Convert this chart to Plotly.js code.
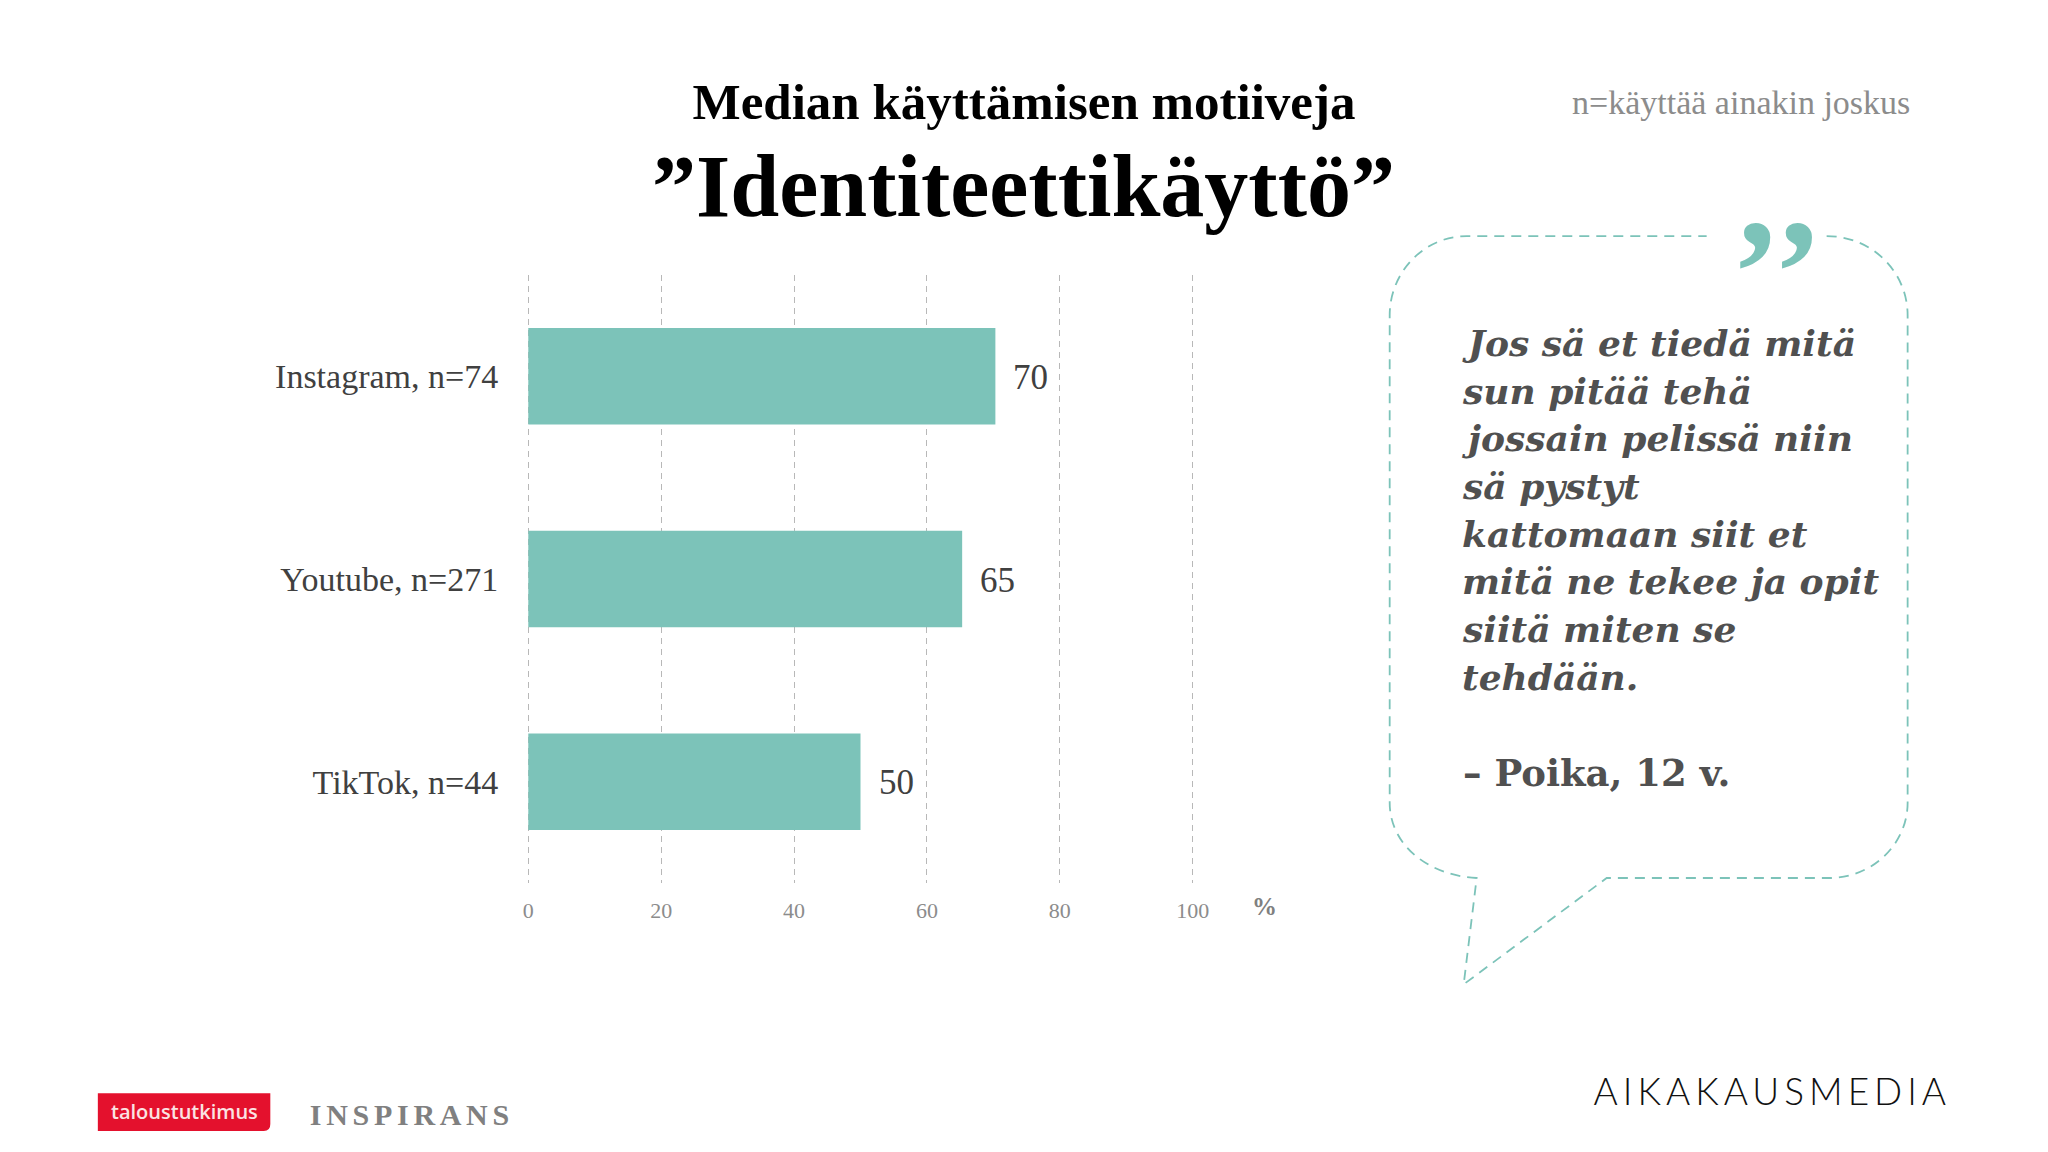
<!DOCTYPE html>
<html><head><meta charset="utf-8">
<script src="https://cdn.plot.ly/plotly-3.0.1.min.js"></script>
<style>html,body{margin:0;padding:0;background:#fff}#c{width:2048px;height:1152px}</style>
</head><body><div id="c"></div>
<script>
const categories = ["Instagram, n=74", "Youtube, n=271", "TikTok, n=44"];
const values = [70.3, 65.3, 50.0];
const valueLabels = ["70", "65", "50"];
const xTicks = [0, 20, 40, 60, 80, 100];
const titleLine1 = "Median käyttämisen motiiveja";
const titleLine2 = "”Identiteettikäyttö”";
const noteText = "n=käyttää ainakin joskus";
const quoteMark = "’’";
const quoteLines = ["Jos sä et tiedä mitä", "sun pitää tehä", "jossain pelissä niin", "sä pystyt", "kattomaan siit et", "mitä ne tekee ja opit", "siitä miten se", "tehdään."];
const quoteAuthor = "– Poika, 12 v.";
const TEAL = "#7cc3b9";

const PL = 515.21, PR = 1206.29, PT = 274.5, PB = 883.5;
const xp = p => (p - PL) / (PR - PL);
const yp = p => (PB - p) / (PB - PT);
const pt = (x, y) => xp(x) + " " + yp(y);

function label(text, x, y, size, color, opts) {
  return Object.assign({
    text, xref: "paper", yref: "paper", x: xp(x), y: yp(y), showarrow: false,
    xanchor: "left", yanchor: "middle", borderpad: 0,
    font: { family: "Liberation Serif", size, color }
  }, opts || {});
}

const annotations = [
  label(titleLine2, 1024, 186, 88, "#000", { xanchor: "center", font: { family: "Liberation Serif", size: 88, color: "#000", weight: 700 } }),
  label(noteText, 1741, 101.5, 34, "#8c8c8c", { xanchor: "center" }),
  label("%", 1265, 907, 25, "#808080", { xanchor: "center", font: { family: "Liberation Serif", size: 25, color: "#808080", weight: 700 } }),
  label(quoteMark, 1778.5, 271.5, 150, TEAL, { xanchor: "center", font: { family: "Liberation Serif", size: 150, color: TEAL, weight: 700 } }),
  label("taloustutkimus", 185, 1112.5, 20, "#fbe3e3", { xanchor: "center", font: { family: "Open Sans", size: 20, color: "#fbe3e3", weight: 600 } }),
  label("INSPIRANS", 412, 1115, 30, "#808080", { xanchor: "center", font: { family: "Liberation Serif", size: 30, color: "#808080", weight: 700 } }),
  label("AIKAKAUSMEDIA", 1772.5, 1091, 37, "#111", { xanchor: "center", font: { family: "Lato", size: 37, color: "#111", weight: 300 } })
];
values.forEach((v, i) => annotations.push({
  text: valueLabels[i], x: v, y: categories[i], xref: "x", yref: "y", showarrow: false,
  xanchor: "left", yanchor: "middle", xshift: 17, yshift: -1, borderpad: 0,
  font: { family: "Liberation Serif", size: 35, color: "#404040" }
}));
const quoteFont = { family: "DejaVu Serif", size: 36, color: "#505050", weight: 700, style: "italic" };
quoteLines.forEach((t, i) => annotations.push(label(t, 1461, 342.5 + i * 47.8, 36, "#505050", { font: quoteFont })));
annotations.push(label(quoteAuthor, 1462, 773, 37, "#505050", { font: { family: "DejaVu Serif", size: 37, color: "#505050", weight: 700 } }));

const bubble = "M " + pt(1827, 235.5) +
  " C " + pt(1872, 235.5) + " " + pt(1908, 271) + " " + pt(1908, 315) +
  " L " + pt(1908, 803) +
  " C " + pt(1908, 845) + " " + pt(1872, 878.5) + " " + pt(1830, 878.5) +
  " L " + pt(1607, 878.5) + " L " + pt(1464, 985) + " L " + pt(1477, 878.5) +
  " C " + pt(1428, 876) + " " + pt(1390, 845) + " " + pt(1390, 803) +
  " L " + pt(1390, 315) +
  " C " + pt(1390, 271) + " " + pt(1425, 235.5) + " " + pt(1467, 235.5) +
  " L " + pt(1707, 235.5);
const logoRect = "M " + pt(98, 1094) + " L " + pt(270.5, 1094) + " L " + pt(270.5, 1125) +
  " Q " + pt(270.5, 1132) + " " + pt(264, 1132) + " L " + pt(98, 1132) + " Z";

const shapes = [
  { type: "path", xref: "paper", yref: "paper", path: bubble, line: { color: TEAL, width: 1.8, dash: "10px,7px" } },
  { type: "path", xref: "paper", yref: "paper", path: logoRect, fillcolor: "#e4112d", line: { width: 0 } }
];

const data = [{
  type: "bar", orientation: "h", x: values, y: categories,
  marker: { color: TEAL, line: { width: 0 } }, hoverinfo: "skip"
}];
const layout = {
  width: 2048, height: 1152, showlegend: false,
  paper_bgcolor: "#fff", plot_bgcolor: "#fff",
  margin: { l: PL, r: 2048 - PR, t: PT, b: 1152 - PB, pad: 0 },
  bargap: 0.524,
  title: {
    text: titleLine1, x: 0.5, xref: "container", xanchor: "center",
    y: 1 - 101 / 1152, yref: "container", yanchor: "middle",
    font: { family: "Liberation Serif", size: 51, color: "#000", weight: 700 }
  },
  xaxis: {
    range: [-2, 102], tickvals: xTicks, ticktext: xTicks.map(String), showgrid: true,
    gridcolor: "#b8b8b8", griddash: "6px,5px", gridwidth: 1, zeroline: false, showline: false,
    ticks: "outside", ticklen: 8, tickcolor: "rgba(0,0,0,0)",
    tickfont: { family: "Liberation Serif", size: 22, color: "#8c8c8c" }
  },
  yaxis: {
    type: "category", categoryorder: "array", categoryarray: categories,
    range: [2.5, -0.5], showgrid: false, zeroline: false, showline: false,
    ticks: "outside", ticklen: 9, tickcolor: "rgba(0,0,0,0)",
    tickfont: { family: "Liberation Serif", size: 34, color: "#404040" }
  },
  annotations, shapes
};
Plotly.newPlot("c", data, layout, { displayModeBar: false, staticPlot: true }).then(() => {
  const sp = { "INSPIRANS": "4.7px", "AIKAKAUSMEDIA": "5px" };
  sp[quoteMark] = "3px";
  document.querySelectorAll(".annotation-text").forEach(el => {
    if (sp[el.textContent]) el.style.letterSpacing = sp[el.textContent];
  });
});
</script></body></html>
